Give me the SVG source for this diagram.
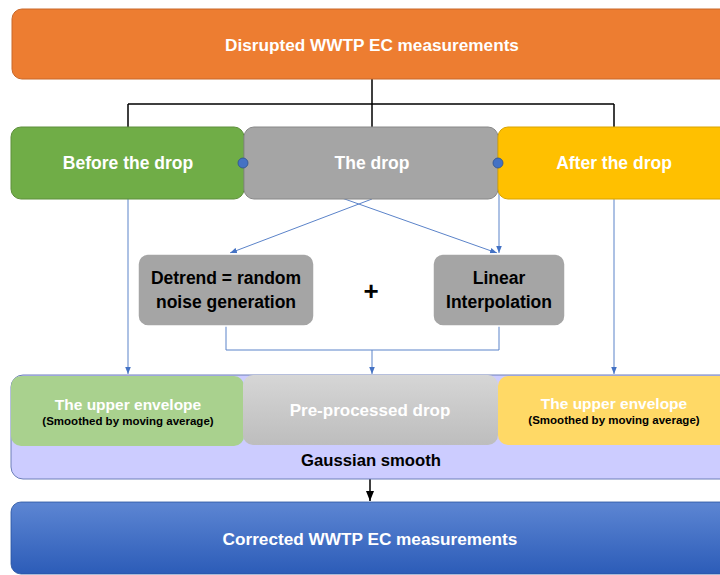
<svg xmlns="http://www.w3.org/2000/svg" width="720" height="575" viewBox="0 0 720 575">
<defs>
<style>
.t{font-family:"Liberation Sans",Arial,sans-serif;font-weight:bold;text-anchor:middle;dominant-baseline:central}
.w{fill:#fff}
.k{fill:#000}
.blue{stroke:#5B83C9;stroke-width:1;fill:none}
.blk{stroke:#000;stroke-width:1.5;fill:none}
</style>
<linearGradient id="gGray" x1="0" y1="0" x2="0" y2="1"><stop offset="0" stop-color="#D6D6D6"/><stop offset="1" stop-color="#BDBDBD"/></linearGradient>
<linearGradient id="gBlue" x1="0" y1="0" x2="0" y2="1"><stop offset="0" stop-color="#5D86D3"/><stop offset="1" stop-color="#2C5CB8"/></linearGradient>
<marker id="ab" viewBox="0 0 10 10" refX="10" refY="5" markerWidth="7" markerHeight="7" orient="auto-start-reverse"><path d="M0,1 L10,5 L0,9 z" fill="#4472C4"/></marker>
<marker id="ak" viewBox="0 0 10 10" refX="10" refY="5" markerWidth="7" markerHeight="7" orient="auto-start-reverse"><path d="M0,1 L10,5 L0,9 z" fill="#000"/></marker>
</defs>
<rect width="720" height="575" fill="#fff"/>

<g id="connectors">
<path class="blk" d="M372,79 V104 M128,104 H614 M128,104 V128 M372,104 V128 M614,104 V128"/>
<path class="blue" d="M128,199 V374" marker-end="url(#ab)"/>
<path class="blue" d="M614,199 V374" marker-end="url(#ab)"/>
<path class="blue" d="M372,199 L230,253" marker-end="url(#ab)"/>
<path class="blue" d="M243,163 L497,253" marker-end="url(#ab)"/>
<path class="blue" d="M499,163 V253" marker-end="url(#ab)"/>
<path class="blue" d="M226,326 V350 H499 V326"/>
<path class="blue" d="M372,350 V374" marker-end="url(#ab)"/>
<path class="blk" stroke-width="1.2" d="M370,479 V501" marker-end="url(#ak)"/>
</g>

<g id="disrupted">
<rect x="12" y="9" width="730" height="70" rx="10" fill="#ED7D31" stroke="#C8682A" stroke-width="1"/>
<text class="t w" x="372" y="45" font-size="17.2">Disrupted WWTP EC measurements</text>
</g>

<g id="before">
<rect x="11" y="127" width="233" height="72" rx="10" fill="#70AD47" stroke="#5E8F3C" stroke-width="1"/>
<text class="t w" x="128" y="163" font-size="17.5">Before the drop</text>
</g>
<g id="drop">
<rect x="244" y="127" width="254" height="72" rx="10" fill="#A5A5A5" stroke="#888" stroke-width="1"/>
<text class="t w" x="372" y="163" font-size="17.5">The drop</text>
</g>
<g id="after">
<rect x="498" y="127" width="240" height="72" rx="10" fill="#FFC000" stroke="#D9A300" stroke-width="1"/>
<text class="t w" x="614" y="163" font-size="17.5">After the drop</text>
</g>
<g id="dots">
<circle cx="243" cy="163" r="5" fill="#4472C4" stroke="#2F528F" stroke-width="0.8"/>
<circle cx="498" cy="163" r="5" fill="#4472C4" stroke="#2F528F" stroke-width="0.8"/>
</g>

<g id="detrend">
<rect x="138" y="254" width="176" height="72" rx="10" fill="#A5A5A5" stroke="#fff" stroke-width="1.5"/>
<text class="t k" x="226" y="278" font-size="17.5">Detrend = random</text>
<text class="t k" x="226" y="302" font-size="17.5">noise generation</text>
</g>
<text class="t k" x="371" y="291" font-size="26">+</text>
<g id="linear">
<rect x="433" y="254" width="132" height="72" rx="10" fill="#A5A5A5" stroke="#fff" stroke-width="1.5"/>
<text class="t k" x="499" y="278" font-size="17.5">Linear</text>
<text class="t k" x="499" y="302" font-size="17.5">Interpolation</text>
</g>

<g id="gaussian">
<rect x="11" y="375" width="730" height="104" rx="12" fill="#CCCCFF" stroke="#6C7FB8" stroke-width="1"/>
<text class="t k" x="371" y="460" font-size="16.7">Gaussian smooth</text>
</g>
<g id="env-left">
<rect x="11" y="376" width="233" height="70" rx="10" fill="#A9D18E"/>
<text class="t w" x="128" y="404" font-size="15.5">The upper envelope</text>
<text class="t k" x="128" y="421" font-size="11.5">(Smoothed by moving average)</text>
</g>
<g id="preprocessed">
<rect x="243" y="375" width="255" height="70" rx="10" fill="url(#gGray)"/>
<text class="t w" x="370" y="410" font-size="17">Pre-processed drop</text>
</g>
<g id="env-right">
<rect x="498" y="376" width="240" height="69" rx="10" fill="#FFD966"/>
<text class="t w" x="614" y="403" font-size="15.5">The upper envelope</text>
<text class="t k" x="614" y="420" font-size="11.5">(Smoothed by moving average)</text>
</g>

<g id="corrected">
<rect x="11" y="502" width="730" height="72" rx="10" fill="url(#gBlue)" stroke="#2A539F" stroke-width="0.8"/>
<text class="t w" x="370" y="539" font-size="17.2">Corrected WWTP EC measurements</text>
</g>
</svg>
